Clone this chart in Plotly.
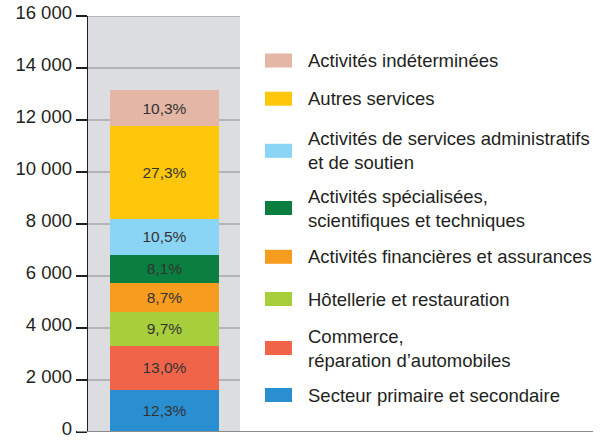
import plotly.graph_objects as go

# Data (bottom to top of the stacked bar)
categories = [
    "Secteur primaire et secondaire",
    "Commerce,<br>réparation d’automobiles",
    "Hôtellerie et restauration",
    "Activités financières et assurances",
    "Activités spécialisées,<br>scientifiques et techniques",
    "Activités de services administratifs<br>et de soutien",
    "Autres services",
    "Activités indéterminées",
]
values = [1617, 1710, 1276, 1144, 1065, 1381, 3590, 1355]
pct_labels = ["12,3%", "13,0%", "9,7%", "8,7%", "8,1%", "10,5%", "27,3%", "10,3%"]
colors = ["#2a8fd1", "#f0654a", "#a7cf3b", "#f69c1e", "#0b7f40", "#8ad4f5", "#ffc70b", "#e4b6a5"]
y_ticks = [0, 2000, 4000, 6000, 8000, 10000, 12000, 14000, 16000]

W, H = 605, 441
ML, MR, MT, MB = 88, 12, 16, 9
PW, PH = W - ML - MR, H - MT - MB
FONT = "Liberation Sans, Arial, sans-serif"

def px_x(px):
    return (px - ML) / PW

def px_y(py):
    return (H - MB - py) / PH

# x axis: bar of width 1 at x=0 spanning 109 px
bar_px = 109
x0 = -0.5 - (110 - ML) / bar_px
x1 = x0 + PW / bar_px

fig = go.Figure()
for cat, v, t, c in zip(categories, values, pct_labels, colors):
    fig.add_trace(go.Bar(
        x=[0], y=[v], width=1, name=cat, text=[t],
        textposition="inside", insidetextanchor="middle", textangle=0,
        textfont=dict(color="#333333", size=15.5, family=FONT),
        marker=dict(color=c, line=dict(width=0)),
        showlegend=False, hoverinfo="skip",
    ))

shapes = []
# grey panel
shapes.append(dict(type="rect", xref="paper", yref="paper", x0=0, x1=px_x(240), y0=0, y1=1,
                   fillcolor="#dcdde0", line=dict(width=0), layer="below"))
# gridlines inside panel
for t in y_ticks[1:]:
    shapes.append(dict(type="line", xref="paper", yref="y", x0=0, x1=px_x(240), y0=t, y1=t,
                       line=dict(color="#8c8c8c", width=1.2), layer="below"))
# baseline
shapes.append(dict(type="line", xref="paper", yref="y", x0=px_x(77), x1=px_x(593), y0=0, y1=0,
                   line=dict(color="#8a8a8a", width=2), layer="above"))

# manual legend (top to bottom)
legend_centers = [60.5, 98.7, 150.8, 208, 256.8, 299, 348, 395]
annotations = []
for cat, c, cy in zip(categories[::-1], colors[::-1], legend_centers):
    shapes.append(dict(type="rect", xref="paper", yref="paper",
                       x0=px_x(265), x1=px_x(292), y0=px_y(cy + 7), y1=px_y(cy - 7),
                       fillcolor=c, line=dict(width=0)))
    annotations.append(dict(xref="paper", yref="paper", x=px_x(306), y=px_y(cy),
                            xanchor="left", yanchor="middle", align="left", showarrow=False,
                            text=cat, font=dict(size=18.5, color="#231f20", family=FONT)))

fig.update_layout(
    width=W, height=H,
    margin=dict(l=ML, r=MR, t=MT, b=MB, pad=0, autoexpand=False),
    barmode="stack",
    separators=", ",
    paper_bgcolor="white", plot_bgcolor="white",
    shapes=shapes, annotations=annotations,
    font=dict(family=FONT, color="#231f20"),
    xaxis=dict(range=[x0, x1], visible=False, fixedrange=True, automargin=False),
    yaxis=dict(range=[0, 16000], tickvals=y_ticks, tickformat=",d",
               showgrid=False, zeroline=False, automargin=False,
               ticklabeloverflow="allow", ticklabelshift=-3,
               showline=True, linecolor="#231f20", linewidth=1.3,
               ticks="outside", ticklen=11, tickcolor="#231f20", tickwidth=1.3,
               tickfont=dict(size=18.5, color="#231f20", family=FONT),
               fixedrange=True),
)

fig.write_html(
    "out.html",
    config={"displayModeBar": False, "staticPlot": True},
    post_script="document.body.style.margin='0';document.body.style.overflow='hidden';",
)
